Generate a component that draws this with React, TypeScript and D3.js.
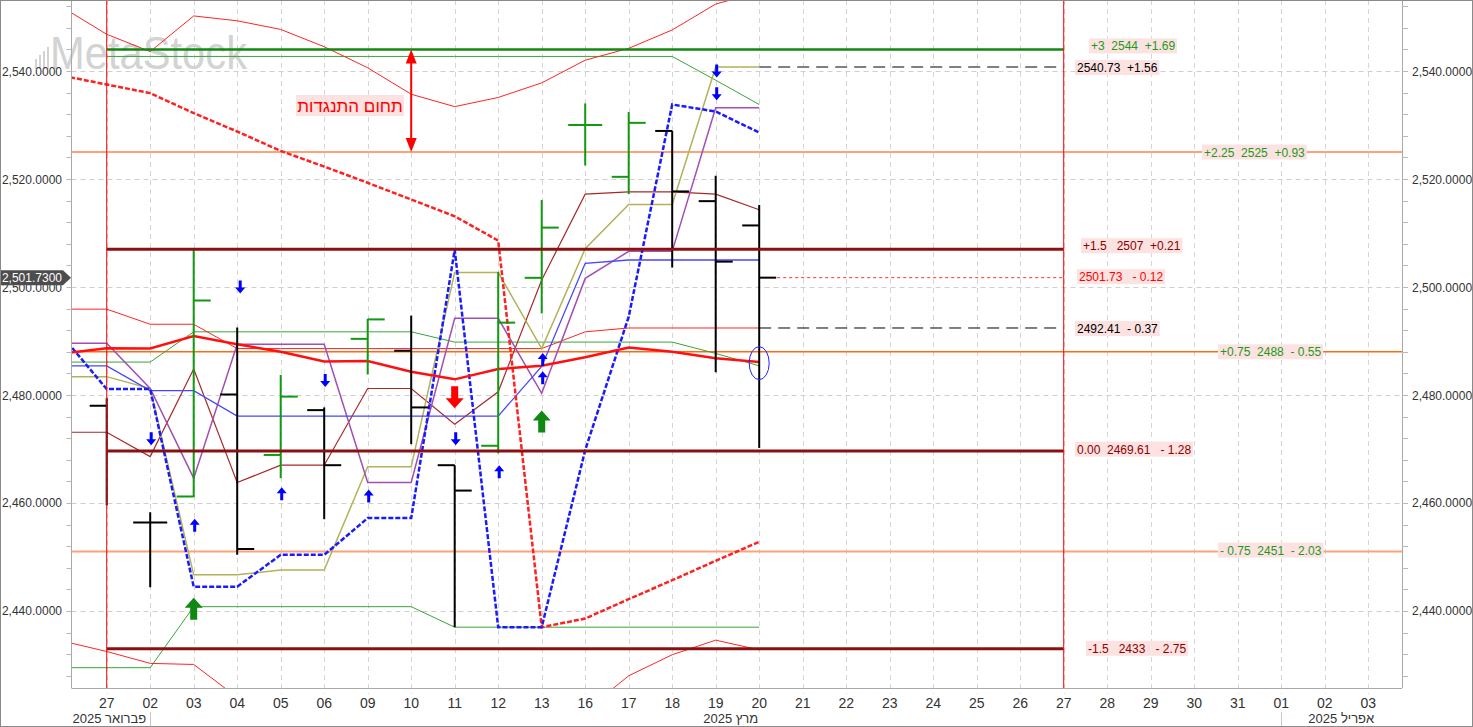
import React, { useLayoutEffect, useRef, useState } from 'react';
import * as d3 from 'd3';

// trading days (TASE, Sun-Thu) plus the empty future slots
const dateKeys = [
  '02-26', '02-27',
  '03-02', '03-03', '03-04', '03-05', '03-06',
  '03-09', '03-10', '03-11', '03-12', '03-13',
  '03-16', '03-17', '03-18', '03-19', '03-20',
  '03-21', '03-22', '03-23', '03-24', '03-25', '03-26', '03-27',
  '03-28', '03-29', '03-30', '03-31', '04-01', '04-02', '04-03',
];
const histKeys = dateKeys.slice(0, 17);
const barKeys = dateKeys.slice(1, 17);

// OHLC 27 Feb .. 20 Mar
const barOpen = [2478.0, 2456.4, 2461.2, 2480.1, 2468.9, 2477.2, 2490.4, 2488.2, 2467.0, 2470.6, 2501.7, 2530.0, 2520.4, 2528.9, 2515.9, 2511.4];
const barHigh = [2479.4, 2458.3, 2507.2, 2492.5, 2483.7, 2477.7, 2494.1, 2494.7, 2467.0, 2502.8, 2516.1, 2534.0, 2532.4, 2528.9, 2520.6, 2515.2];
const barLow = [2459.6, 2444.4, 2461.1, 2450.4, 2464.6, 2457.0, 2483.8, 2470.9, 2437.0, 2469.2, 2495.1, 2522.5, 2517.2, 2503.6, 2484.2, 2470.2];
const barClose = [2469.61, 2456.4, 2497.5, 2451.5, 2479.7, 2467.0, 2494.0, 2477.7, 2462.3, 2493.4, 2511.0, 2530.0, 2530.4, 2517.7, 2504.7, 2501.73];

// indicator series 26 Feb .. 20 Mar
const maRed = [2487.7, 2488.65, 2488.6, 2490.9, 2489.4, 2488.0, 2486.2, 2486.3, 2484.3, 2482.9, 2484.8, 2485.4, 2487.0, 2488.8, 2488.0, 2486.8, 2486.1];
const bandUpper = [2551.7, 2546.8, 2543.6, 2550.2, 2549.3, 2547.7, 2544.5, 2540.6, 2535.7, 2533.4, 2535.1, 2537.8, 2542.0, 2544.2, 2547.6, 2552.4, 2554.6];
const bandLower = [2434.4, 2432.5, 2430.3, 2430.1, 2424.0, 2420.0, 2418.0, 2416.0, 2415.0, 2414.0, 2414.0, 2416.0, 2421.5, 2428.0, 2431.9, 2434.6, 2432.8];
const stopRed = [2539.1, 2537.5, 2535.9, 2532.2, 2528.8, 2525.2, 2522.3, 2519.3, 2516.2, 2513.1, 2508.6, 2437.0, 2438.6, 2442.2, 2445.7, 2449.3, 2452.8];
const stopBlue = [2490.7, 2481.1, 2481.1, 2444.5, 2444.5, 2450.4, 2450.4, 2457.2, 2457.2, 2506.9, 2437.0, 2437.0, 2469.8, 2494.5, 2533.8, 2532.5, 2528.6];
const blueThin = [2485.4, 2485.4, 2480.8, 2480.8, 2476.1, 2476.1, 2476.1, 2476.1, 2476.1, 2476.1, 2476.1, 2485.3, 2504.4, 2505.0, 2505.0, 2505.0, 2505.0];
const oliveLine = [2483.4, 2483.4, 2481.2, 2446.7, 2446.7, 2447.6, 2447.6, 2466.7, 2466.7, 2502.7, 2502.7, 2488.6, 2507.1, 2515.3, 2515.3, 2540.73, 2540.73];
const redThin = [2495.9, 2495.9, 2493.1, 2493.1, 2488.6, 2488.6, 2488.6, 2488.6, 2488.6, 2488.6, 2488.6, 2488.6, 2491.7, 2492.41, 2492.41, 2492.41, 2492.41];
const purpleLine = [2489.6, 2489.6, 2481.2, 2464.6, 2489.4, 2489.4, 2489.4, 2463.8, 2463.8, 2494.2, 2494.2, 2480.3, 2501.6, 2506.6, 2506.6, 2533.2, 2533.2];
const brownLine = [2473.1, 2473.1, 2468.6, 2484.8, 2463.8, 2467.0, 2467.0, 2481.2, 2481.2, 2474.6, 2480.6, 2501.3, 2517.2, 2517.6, 2517.6, 2517.2, 2514.3];
const greenMid = [2486.1, 2486.1, 2486.1, 2491.7, 2491.7, 2491.7, 2491.7, 2491.7, 2491.7, 2489.8, 2489.8, 2489.8, 2489.8, 2489.8, 2489.8, 2487.7, 2485.4];
const greenUpper = [null, 2542.7, 2542.7, 2542.7, 2542.7, 2542.7, 2542.7, 2542.7, 2542.7, 2542.7, 2542.7, 2542.7, 2542.7, 2542.7, 2542.7, 2538.3, 2533.8];
const greenLower = [2429.5, 2429.5, 2429.5, 2440.8, 2440.8, 2440.8, 2440.8, 2440.8, 2440.8, 2437.0, 2437.0, 2437.0, 2437.0, 2437.0, 2437.0, 2437.0, 2437.0];

// fib / projection levels
const levelValues = [2544, 2540.73, 2525, 2507, 2501.73, 2492.41, 2488, 2469.61, 2451, 2433];
const levelTexts = [
  '+3  2544  +1.69',
  '2540.73  +1.56',
  '+2.25  2525  +0.93',
  '+1.5   2507  +0.21',
  '2501.73   - 0.12',
  '2492.41  - 0.37',
  '+0.75  2488  - 0.55',
  '0.00  2469.61   - 1.28',
  '- 0.75  2451  - 2.03',
  '-1.5   2433   - 2.75',
];
const levelKinds = ['fibTop', 'lastRef', 'fibOrangeLight', 'fibDark', 'lastClose', 'lastMid', 'fibOrange', 'fibDark', 'fibOrangeLight', 'fibDark'];

// signal arrows
const blueDownKeys = ['03-02', '03-04', '03-06', '03-11', '03-19', '03-19'];
const blueDownValues = [2472.0, 2500.1, 2482.8, 2472.0, 2540.1, 2535.9];
const blueUpKeys = ['03-03', '03-05', '03-09', '03-12', '03-13', '03-13'];
const blueUpValues = [2455.8, 2461.6, 2461.2, 2465.7, 2486.5, 2483.1];
const bigUpKeys = ['03-03', '03-13'];
const bigUpValues = [2440.4, 2475.1];
const bigDownKeys = ['03-11'];
const bigDownValues = [2479.6];

const resistanceLabel = 'תחום התנגדות';
const monthLabels = ['2025 פברואר', '2025 מרץ', '2025 אפריל'];
const lastPrice = 2501.73;

const W = 1473;
const H = 727;
const plot = { left: 71.5, right: 1402, top: 0, bottom: 688 };

const x = d3.scalePoint<string>().domain(dateKeys).range([63.2, 1368.2]);
const y = d3.scaleLinear().domain([2425.74, 2553.15]).range([688, 0]);

const FONT = "'Liberation Sans', Arial, sans-serif";
const NARROW = "'Liberation Sans Narrow', 'Liberation Sans', Arial, sans-serif";
const fmt = d3.format(',.4f');

const lineGen = d3
  .line<number | null>()
  .defined((d) => d != null)
  .x((_, i) => x(histKeys[i]) as number)
  .y((d) => y(d as number));

function TagText({ x0, yc, text, color }: { x0: number; yc: number; text: string; color: string }) {
  const ref = useRef<SVGTextElement>(null);
  const [w, setW] = useState(text.length * 6);
  useLayoutEffect(() => {
    if (ref.current) setW(ref.current.getComputedTextLength());
  }, [text]);
  return (
    <g>
      <rect x={x0} y={yc - 7.5} width={w + 4} height={15} fill="#fde2e2" />
      <text ref={ref} x={x0 + 2} y={yc + 4.5} fontSize={12} fontFamily={FONT} fill={color} style={{ whiteSpace: 'pre' }}>
        {text}
      </text>
    </g>
  );
}

const smallDown = (cx: number, cy: number) =>
  `M${cx - 1.5},${cy - 6}h3v7h3.5l-5,6l-5,-6h3.5z`;
const smallUp = (cx: number, cy: number) =>
  `M${cx - 1.5},${cy + 6}h3v-7h3.5l-5,-6l-5,6h3.5z`;
const bigUp = (cx: number, cy: number) =>
  `M${cx},${cy - 11}L${cx + 9},${cy - 1}H${cx + 3.5}V${cy + 11}H${cx - 3.5}V${cy - 1}H${cx - 9}Z`;
const bigDown = (cx: number, cy: number) =>
  `M${cx},${cy + 11}L${cx + 9},${cy + 1}H${cx + 3.5}V${cy - 11}H${cx - 3.5}V${cy + 1}H${cx - 9}Z`;

export default function App() {
  const xs = (k: string) => x(k) as number;
  const xStart = xs('02-27');
  const xEnd = xs('03-27');
  const xLast = xs('03-20');

  const majorTicks = d3.range(2440, 2541, 20);
  const minorTicks = d3.range(2428, 2553, 4).filter((v) => v % 20 !== 0);

  const labelXByIndex = [1089, 1075, 1202, 1081, 1077, 1075, 1218, 1075, 1218, 1086];
  const labelDy = [-3.5, 0.5, 0, -3.5, -1, 0.5, 0, -2, -1.5, -0.5];
  const labelColor = (k: string) => {
    if (k === 'fibTop' || k.startsWith('fibOrange')) return '#1a9a1a';
    if (k === 'fibDark') return '#8b0000';
    if (k === 'lastClose') return '#ff0000';
    return '#000';
  };

  const prevClose = [barOpen[0] + 1, ...barClose.slice(0, -1)];

  const levelLine = (v: number, i: number) => {
    const k = levelKinds[i];
    const yy = y(v);
    if (k === 'fibTop')
      return <line key={i} x1={xStart} x2={xEnd} y1={yy} y2={yy} stroke="#118811" strokeWidth={2.5} />;
    if (k === 'fibDark')
      return <line key={i} x1={xStart} x2={xEnd} y1={yy} y2={yy} stroke="#8b1010" strokeWidth={3} />;
    if (k === 'fibOrangeLight')
      return <line key={i} x1={plot.left} x2={plot.right} y1={yy} y2={yy} stroke="#ffa27a" strokeWidth={2} />;
    if (k === 'fibOrange')
      return <line key={i} x1={plot.left} x2={plot.right} y1={yy} y2={yy} stroke="#ff6a10" strokeWidth={1.5} />;
    if (k === 'lastRef')
      return <line key={i} x1={xLast} x2={xEnd} y1={yy} y2={yy} stroke="#808080" strokeWidth={2} strokeDasharray="12,7" />;
    if (k === 'lastClose')
      return <line key={i} x1={xLast} x2={xEnd} y1={yy} y2={yy} stroke="#ff3030" strokeWidth={1} strokeDasharray="3,3" />;
    return <line key={i} x1={xLast} x2={xEnd} y1={yy} y2={yy} stroke="#000" strokeWidth={1} strokeDasharray="12,7" />;
  };

  return (
    <>
      <style>{`body{margin:0}`}</style>
      <svg width={W} height={H} style={{ display: 'block', background: '#fff' }}>
        <defs>
          <clipPath id="plotClip">
            <rect x={plot.left} y={plot.top} width={plot.right - plot.left} height={plot.bottom - plot.top} />
          </clipPath>
        </defs>

        {/* grid */}
        <g stroke="#cfcfcf" strokeWidth={1} strokeDasharray="5,4">
          {majorTicks.map((v) => (
            <line key={v} x1={plot.left} x2={plot.right} y1={Math.round(y(v)) + 0.5} y2={Math.round(y(v)) + 0.5} />
          ))}
          {dateKeys.slice(1).map((k) => (
            <line key={k} x1={Math.round(xs(k)) + 0.5} x2={Math.round(xs(k)) + 0.5} y1={0} y2={694} stroke="#d6d6d6" />
          ))}
        </g>

        {/* watermark */}
        <g fill="#d3d3d3">
          {[0, 1, 2, 3].map((i) => (
            <rect key={i} x={35 + i * 4} y={69 - 10 - i * 4} width={2} height={10 + i * 4} />
          ))}
          <text x={50} y={69} fontSize={47} fontFamily={FONT} textLength={197} lengthAdjust="spacingAndGlyphs">
            MetaStock
          </text>
        </g>

        <g clipPath="url(#plotClip)">
          {/* light level lines */}
          {levelValues.map((v, i) => (levelKinds[i] === 'fibDark' || levelKinds[i] === 'fibTop' ? null : levelLine(v, i)))}

          {/* indicator lines */}
          <path d={lineGen(greenUpper) || ''} fill="none" stroke="#37a537" strokeWidth={1} />
          <path d={lineGen(greenLower) || ''} fill="none" stroke="#37a537" strokeWidth={1} />
          <path d={lineGen(greenMid) || ''} fill="none" stroke="#37a537" strokeWidth={1} />
          <path d={lineGen(bandUpper) || ''} fill="none" stroke="#ff2424" strokeWidth={1} />
          <path d={lineGen(bandLower) || ''} fill="none" stroke="#ff2424" strokeWidth={1} />
          <path d={lineGen(redThin) || ''} fill="none" stroke="#ff2424" strokeWidth={1} />
          <path d={lineGen(brownLine) || ''} fill="none" stroke="#a52a2a" strokeWidth={1.2} />
          <path d={lineGen(oliveLine) || ''} fill="none" stroke="#b2b25a" strokeWidth={1.5} />
          <path d={lineGen(purpleLine) || ''} fill="none" stroke="#a24fb3" strokeWidth={1.5} />
          <path d={lineGen(blueThin) || ''} fill="none" stroke="#4646ff" strokeWidth={1.3} />
          <path d={lineGen(stopRed) || ''} fill="none" stroke="#ff2020" strokeWidth={2.5} strokeDasharray="5,2" />
          <path d={lineGen(stopBlue) || ''} fill="none" stroke="#1a1aff" strokeWidth={2.5} strokeDasharray="5,2" />
          <path d={lineGen(maRed) || ''} fill="none" stroke="#ff1010" strokeWidth={2.5} />

          {/* OHLC bars */}
          {barKeys.map((k, i) => {
            const cx = xs(k);
            const up = barClose[i] > prevClose[i];
            const col = up ? '#119911' : '#000';
            return (
              <g key={k} stroke={col} strokeWidth={2}>
                <line x1={cx} x2={cx} y1={y(barHigh[i])} y2={y(barLow[i])} />
                <line x1={cx - 17} x2={cx} y1={y(barOpen[i])} y2={y(barOpen[i])} />
                <line x1={cx} x2={cx + 17} y1={y(barClose[i])} y2={y(barClose[i])} />
              </g>
            );
          })}

          {/* heavy level lines */}
          {levelValues.map((v, i) => (levelKinds[i] === 'fibDark' || levelKinds[i] === 'fibTop' ? levelLine(v, i) : null))}

          {/* red date markers */}
          {[xStart, xEnd].map((xx, i) => (
            <line key={i} x1={xx} x2={xx} y1={0} y2={plot.bottom} stroke="#ff0000" strokeWidth={1} />
          ))}

          {/* signal arrows */}
          {blueDownKeys.map((k, i) => (
            <path key={'bd' + i} d={smallDown(xs(k) + (k === '03-04' ? 3 : 1), y(blueDownValues[i]))} fill="#0000ff" />
          ))}
          {blueUpKeys.map((k, i) => (
            <path key={'bu' + i} d={smallUp(xs(k) + 1, y(blueUpValues[i]))} fill="#0000ff" />
          ))}
          {bigUpKeys.map((k, i) => (
            <path key={'gu' + i} d={bigUp(xs(k), y(bigUpValues[i]))} fill="#118811" />
          ))}
          {bigDownKeys.map((k, i) => (
            <path key={'rd' + i} d={bigDown(xs(k), y(bigDownValues[i]))} fill="#ff0000" />
          ))}

          <ellipse cx={xLast} cy={y(2485.9)} rx={10} ry={16.5} fill="none" stroke="#2020ff" strokeWidth={1} />

          {/* resistance zone marker */}
          <g fill="#ff0000" stroke="none">
            <rect x={xs('03-10') - 1} y={y(levelValues[0]) + 12} width={2} height={y(levelValues[2]) - y(levelValues[0]) - 24} />
            <path d={`M${xs('03-10')},${y(levelValues[0])}l5.5,14h-11z`} />
            <path d={`M${xs('03-10')},${y(levelValues[2])}l5.5,-14h-11z`} />
          </g>
          <rect x={296} y={95} width={108} height={21} fill="#fde2e2" />
          <text x={350} y={112} textAnchor="middle" fontSize={17} fontFamily={FONT} fill="#ff0000">
            {resistanceLabel}
          </text>
        </g>

        {/* level labels */}
        {levelValues.map((v, i) => (
          <TagText
            key={i}
            x0={labelXByIndex[i]}
            yc={y(v) + labelDy[i]}
            text={levelTexts[i]}
            color={labelColor(levelKinds[i])}
          />
        ))}

        {/* axes frame */}
        <g stroke="#a8a8a8" strokeWidth={1}>
          <line x1={plot.left} x2={plot.left} y1={0} y2={plot.bottom} />
          <line x1={plot.right + 0.5} x2={plot.right + 0.5} y1={0} y2={plot.bottom} />
          <line x1={plot.left} x2={plot.right} y1={plot.bottom + 0.5} y2={plot.bottom + 0.5} />
        </g>

        {/* y ticks */}
        <g stroke="#b8b8b8">
          {[...majorTicks, ...minorTicks].map((v) => (
            <g key={v}>
              <line x1={plot.left - 5} x2={plot.left} y1={Math.round(y(v)) + 0.5} y2={Math.round(y(v)) + 0.5} />
              <line x1={plot.right} x2={plot.right + 6} y1={Math.round(y(v)) + 0.5} y2={Math.round(y(v)) + 0.5} />
            </g>
          ))}
        </g>
        <g fontSize={12} fontFamily={FONT} fill="#333">
          {majorTicks.map((v) => (
            <g key={v}>
              <text x={62} y={y(v) + 4.5} textAnchor="end">{fmt(v)}</text>
              <text x={plot.right + 10} y={y(v) + 4.5}>{fmt(v)}</text>
            </g>
          ))}
        </g>

        {/* last price tag on left axis */}
        <path
          d={`M0,${y(lastPrice) - 7.5}H63L71,${y(lastPrice)}L63,${y(lastPrice) + 7.5}H0Z`}
          fill="#4d4d4d"
        />
        <text x={62} y={y(lastPrice) + 4.5} textAnchor="end" fontSize={12} fontFamily={FONT} fill="#fff">
          {fmt(lastPrice)}
        </text>

        {/* x axis labels */}
        <g fontSize={14} fontFamily={NARROW} fill="#333" textAnchor="middle">
          {dateKeys.slice(1).map((k) => (
            <text key={k} x={xs(k)} y={708}>{k.slice(3)}</text>
          ))}
        </g>
        <g fontSize={13} fontFamily={NARROW} fill="#333" textAnchor="end">
          <text x={xs('03-02') - 4} y={723}>{monthLabels[0]}</text>
          <text x={xLast - 1} y={723}>{monthLabels[1]}</text>
          <text x={xs('04-03') + 6} y={723}>{monthLabels[2]}</text>
        </g>
        <g stroke="#c8c8c8">
          <line x1={Math.round(xs('03-02')) + 0.5} x2={Math.round(xs('03-02')) + 0.5} y1={712} y2={727} />
          <line x1={Math.round(xs('04-01')) + 0.5} x2={Math.round(xs('04-01')) + 0.5} y1={712} y2={727} />
        </g>

        <rect x={0.5} y={0.5} width={W - 1} height={H - 1} fill="none" stroke="#8a8a8a" />
      </svg>
    </>
  );
}
